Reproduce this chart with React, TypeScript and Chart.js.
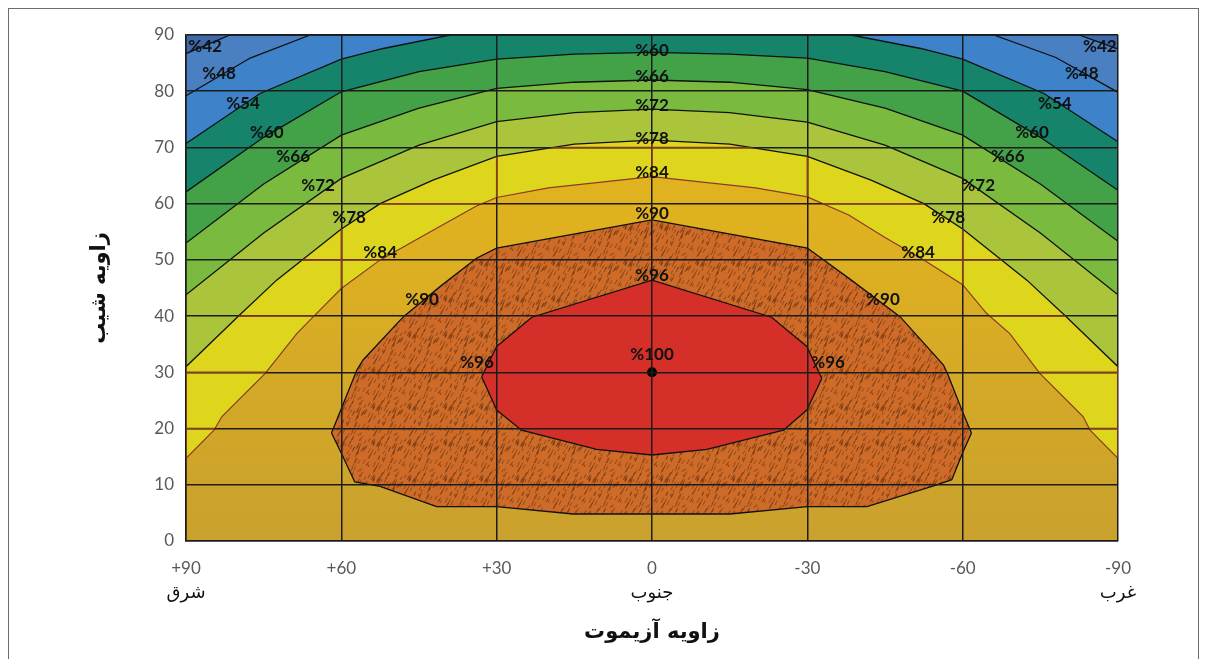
import React, { useEffect, useRef } from 'react';
import { Chart, registerables } from 'chart.js';

Chart.register(...registerables);

type P = [number, number];

// ---- axis ticks & texts ----
const azTicks = [90, 60, 30, 0, -30, -60, -90];
const tiltTicks = [0, 10, 20, 30, 40, 50, 60, 70, 80, 90];
const directionAz = [90, 0, -90];
const directionText = ['شرق', 'جنوب', 'غرب'];
const xTitle = 'زاویه آزیموت';
const yTitle = 'زاویه شیب';

// ---- contour lines [azimuth, tilt] ----
const contour42: P[] = [[90, 86.7], [81.5, 90], [-82.5, 90], [-90, 87.5]];
const contour48: P[] = [[90, 79.2], [77.6, 85.9], [66, 90], [-66, 90], [-78, 86], [-90, 79.8]];
const contour54: P[] = [[90, 70.7], [75.7, 79.6], [60, 85.7], [51.9, 87.6], [39, 90], [-38.5, 90], [-51.9, 87.6], [-60, 85.7], [-75.7, 79.6], [-90, 71]];
const contour60: P[] = [[90, 62.1], [75, 71.8], [60, 79.9], [45, 83.5], [30, 85.7], [15, 86.6], [0, 86.9], [-15, 86.6], [-30, 85.9], [-45, 83.5], [-60, 80], [-75, 71.8], [-90, 62.4]];
const contour66: P[] = [[90, 53.0], [75, 63.5], [60, 72.2], [45, 77.0], [30, 80.5], [15, 81.6], [0, 82.0], [-15, 81.6], [-30, 80.3], [-45, 77.0], [-60, 72.2], [-75, 63.5], [-90, 53.3]];
const contour72: P[] = [[90, 43.8], [75, 54.8], [60, 64.5], [45, 70.4], [30, 74.6], [15, 76.2], [0, 76.8], [-15, 76.2], [-30, 74.5], [-45, 70.4], [-60, 64.5], [-75, 54.8], [-90, 43.8]];
const contour78: P[] = [[90, 31.0], [80, 39.9], [72.5, 46.4], [60, 55.5], [52.5, 60], [42.3, 64.2], [30, 68.4], [15, 70.6], [0, 71.3], [-15, 70.6], [-30, 68.4], [-42.3, 64.2], [-52.5, 60], [-60, 55.5], [-72.4, 46.4], [-80, 39.9], [-90, 31.0]];
const contour84: P[] = [[90, 14.7], [84.6, 19.7], [83.1, 22.1], [74.7, 29.8], [68.6, 36.9], [65.4, 39.9], [60, 44.9], [52.5, 50], [42.2, 55.3], [33.9, 59.6], [30, 61.1], [20, 62.8], [0, 64.8], [-20, 62.8], [-30, 61.2], [-38, 58], [-45, 54], [-52.5, 50], [-60, 45.6], [-64.6, 40.5], [-69.1, 36.9], [-74.9, 29.8], [-83.3, 22.1], [-84.6, 19.7], [-90, 14.7]];
const contour90Upper: P[] = [[61.9, 19.2], [57, 30.4], [55.8, 32.2], [48, 39.9], [41, 45.2], [33.9, 50.3], [30, 52.1], [0, 57.1], [-30, 52.1], [-38.5, 46.4], [-47.9, 39.9], [-56.3, 31.3], [-57.2, 29.5], [-60.1, 22.7], [-61.7, 19.2]];
const contour90Lower: P[] = [[61.9, 19.2], [60.3, 16.2], [57.4, 10.5], [52.5, 9.7], [41.6, 6.1], [30, 6.1], [15.2, 4.8], [-15, 4.8], [-30, 6.1], [-41.5, 6.1], [-55, 10], [-57.9, 10.9], [-60.1, 15.9], [-61.7, 19.2]];
const contour96Upper: P[] = [[32.9, 29.2], [30, 34.6], [23.2, 39.8], [0, 46.4], [-23.1, 39.8], [-29.9, 34.6], [-32.8, 28.9]];
const contour96Lower: P[] = [[32.9, 29.2], [30, 23.3], [25.2, 19.7], [10.7, 16.3], [0, 15.3], [-10.6, 16.3], [-25.4, 19.7], [-29.9, 23.3], [-32.8, 28.9]];
const peak: P[] = [[0, 30]];

// ---- contour labels ----
const sideLabelText = ['%42', '%48', '%54', '%60', '%66', '%72', '%78', '%84', '%90', '%96'];
const leftLabelAz = [86.3, 83.6, 79, 74.4, 69.3, 64.5, 58.5, 52.5, 44.4, 33.8];
const rightLabelAz = [-86.5, -83, -77.8, -73.4, -68.7, -63, -57.2, -51.4, -44.6, -34];
const sideLabelTilt = [88, 83.1, 77.9, 72.7, 68.3, 63.3, 57.6, 51.4, 43, 31.8];
const centerLabelText = ['%60', '%66', '%72', '%78', '%84', '%90', '%96', '%100'];
const centerLabelTilt = [87.2, 82.7, 77.4, 71.5, 65.5, 58.3, 47.3, 33.1];

// ---- band colours ----
const colorBelow42 = '#3f68a9';
const color42 = '#4a7fc2';
const color48 = '#3e82c9';
const color54 = '#15846a';
const color60 = '#43a148';
const color66 = '#7aba3e';
const color72 = '#aac43b';
const color78 = '#ddd61d';
const color84Top = '#e1b21f';
const color84Bottom = '#c9a12d';
const color96 = '#d52f29';

const toXY = (pts: P[]) => pts.map(([x, y]) => ({ x, y }));

function makeHatch(): CanvasPattern | string {
  const c = document.createElement('canvas');
  c.width = 36;
  c.height = 36;
  const g = c.getContext('2d');
  if (!g) return '#c0642b';
  g.fillStyle = '#cf6b28';
  g.fillRect(0, 0, 36, 36);
  g.strokeStyle = 'rgba(75,38,12,0.6)';
  g.lineWidth = 0.8;
  for (let i = 0; i < 70; i++) {
    const x = (i * 17 + ((i * i) % 13)) % 36;
    const y = (i * 23 + ((i * 7) % 11)) % 36;
    const len = 3 + (i % 4);
    for (const [dx, dy] of [[0, 0], [36, 0], [0, 36], [-36, 0], [0, -36]]) {
      g.beginPath();
      g.moveTo(x + dx, y + dy);
      g.lineTo(x + dx + len * 0.45, y + dy - len * 0.9);
      g.stroke();
    }
  }
  return g.createPattern(c, 'repeat') || '#c0642b';
}

export default function App() {
  const ref = useRef<HTMLCanvasElement>(null);

  useEffect(() => {
    const canvas = ref.current;
    if (!canvas) return;
    const hatch = makeHatch();

    const contourStyle = {
      borderColor: '#111',
      borderWidth: 1.3,
      pointRadius: 0,
      tension: 0,
    };

    const orangeFill = (ctx: any) => {
      const chart = ctx.chart;
      const area = chart.chartArea;
      if (!area) return color84Top;
      const ys = chart.scales.y;
      const g = chart.ctx.createLinearGradient(0, ys.getPixelForValue(60), 0, ys.getPixelForValue(0));
      g.addColorStop(0, color84Top);
      g.addColorStop(1, color84Bottom);
      return g;
    };

    const bands: any[] = [
      { data: toXY(contour42), backgroundColor: color42, fill: 'origin' },
      { data: toXY(contour48), backgroundColor: color48, fill: 'origin' },
      { data: toXY(contour54), backgroundColor: color54, fill: 'origin' },
      { data: toXY(contour60), backgroundColor: color60, fill: 'origin' },
      { data: toXY(contour66), backgroundColor: color66, fill: 'origin' },
      { data: toXY(contour72), backgroundColor: color72, fill: 'origin' },
      { data: toXY(contour78), backgroundColor: color78, fill: 'origin' },
      { data: toXY(contour84), backgroundColor: orangeFill, fill: 'origin', borderColor: '#8a3a26', borderWidth: 1.2 },
      { data: toXY(contour90Upper), backgroundColor: hatch, fill: '+1' },
      { data: toXY(contour90Lower), fill: false },
      { data: toXY(contour96Upper), backgroundColor: color96, fill: '+1' },
      { data: toXY(contour96Lower), fill: false },
      { data: toXY(peak), showLine: false, pointRadius: 5, pointBackgroundColor: '#000', pointBorderColor: '#000', borderWidth: 0 },
    ];
    const datasets = bands.map((d, i) => ({ ...contourStyle, ...d, order: 100 - i }));

    const background = {
      id: 'plotBackground',
      beforeDatasetsDraw(chart: any) {
        const { ctx, chartArea } = chart;
        ctx.save();
        ctx.fillStyle = colorBelow42;
        ctx.fillRect(chartArea.left, chartArea.top, chartArea.right - chartArea.left, chartArea.bottom - chartArea.top);
        ctx.restore();
      },
    };

    const overlay = {
      id: 'overlay',
      afterDraw(chart: any) {
        const { ctx, chartArea } = chart;
        const xs = chart.scales.x;
        const ys = chart.scales.y;
        const px = (a: number) => xs.getPixelForValue(a);
        const py = (t: number) => ys.getPixelForValue(t);

        // brown gridlines inside the 78-84 band
        ctx.save();
        ctx.beginPath();
        contour78.forEach(([a, t], i) => (i === 0 ? ctx.moveTo(px(a), py(t)) : ctx.lineTo(px(a), py(t))));
        [...contour84].reverse().forEach(([a, t]) => ctx.lineTo(px(a), py(t)));
        ctx.closePath();
        ctx.clip();
        ctx.strokeStyle = '#8b3a26';
        ctx.lineWidth = 1.5;
        azTicks.forEach((a) => {
          ctx.beginPath();
          ctx.moveTo(px(a), chartArea.top);
          ctx.lineTo(px(a), chartArea.bottom);
          ctx.stroke();
        });
        tiltTicks.forEach((t) => {
          ctx.beginPath();
          ctx.moveTo(chartArea.left, py(t));
          ctx.lineTo(chartArea.right, py(t));
          ctx.stroke();
        });
        ctx.restore();

        // contour labels
        ctx.save();
        ctx.fillStyle = '#111';
        ctx.font = 'bold 17px Lato';
        ctx.textAlign = 'center';
        ctx.textBaseline = 'middle';
        (ctx as any).direction = 'ltr';
        sideLabelText.forEach((s, i) => {
          ctx.fillText(s, px(leftLabelAz[i]), py(sideLabelTilt[i]));
          ctx.fillText(s, px(rightLabelAz[i]), py(sideLabelTilt[i]));
        });
        centerLabelText.forEach((s, i) => {
          ctx.fillText(s, px(0), py(centerLabelTilt[i]));
        });
        ctx.restore();

        // direction words under the ticks
        ctx.save();
        ctx.fillStyle = '#111';
        ctx.font = '18px "DejaVu Sans"';
        ctx.textAlign = 'center';
        ctx.textBaseline = 'middle';
        directionText.forEach((s, i) => {
          ctx.fillText(s, px(directionAz[i]), chartArea.bottom + 52);
        });
        // axis titles
        ctx.font = 'bold 21px "DejaVu Sans"';
        ctx.fillText(xTitle, (chartArea.left + chartArea.right) / 2, chartArea.bottom + 92);
        ctx.translate(91, (chartArea.top + chartArea.bottom) / 2);
        ctx.rotate(-Math.PI / 2);
        ctx.fillText(yTitle, 0, 0);
        ctx.restore();
      },
    };

    const tickFont = { family: 'Lato', size: 17 };
    const gridOpts = { color: '#1c1c1c', lineWidth: 1.5, drawTicks: false, z: 1 };
    const borderOpts = { display: true, color: '#1c1c1c', width: 1.5, z: 1 };
    const chart = new Chart(canvas, {
      type: 'line',
      data: { datasets },
      options: {
        animation: false,
        responsive: false,
        devicePixelRatio: 1,
        layout: { padding: { left: 0, right: 80, top: 26, bottom: 0 } },
        plugins: { legend: { display: false }, tooltip: { enabled: false } },
        scales: {
          x: {
            type: 'linear',
            min: -90,
            max: 90,
            reverse: true,
            z: 1,
            afterBuildTicks: (s: any) => {
              s.ticks = azTicks.map((v) => ({ value: v }));
            },
            ticks: {
              stepSize: 30,
              autoSkip: false,
              maxRotation: 0,
              color: '#595959',
              font: tickFont,
              padding: 17,
              callback: (v: any) => (Number(v) > 0 ? '+' + v : String(v)),
            },
            grid: gridOpts,
            border: borderOpts,
            afterFit: (s: any) => {
              s.height = 118;
              s.paddingLeft = 0;
              s.paddingRight = 0;
            },
          },
          y: {
            type: 'linear',
            min: 0,
            max: 90,
            z: 1,
            ticks: { stepSize: 10, color: '#595959', font: tickFont, padding: 12 },
            grid: gridOpts,
            border: borderOpts,
            afterFit: (s: any) => {
              s.width = 177;
            },
          },
        },
      } as any,
      plugins: [background, overlay],
    });
    return () => chart.destroy();
  }, []);

  return (
    <div
      style={{
        width: 1191,
        height: 651,
        boxSizing: 'border-box',
        borderTop: '1px solid #6e6e6e',
        borderLeft: '1px solid #6e6e6e',
        borderRight: '1px solid #6e6e6e',
        background: '#fff',
      }}
    >
      <canvas ref={ref} width={1189} height={650} style={{ display: 'block', width: 1189, height: 650 }} />
    </div>
  );
}
